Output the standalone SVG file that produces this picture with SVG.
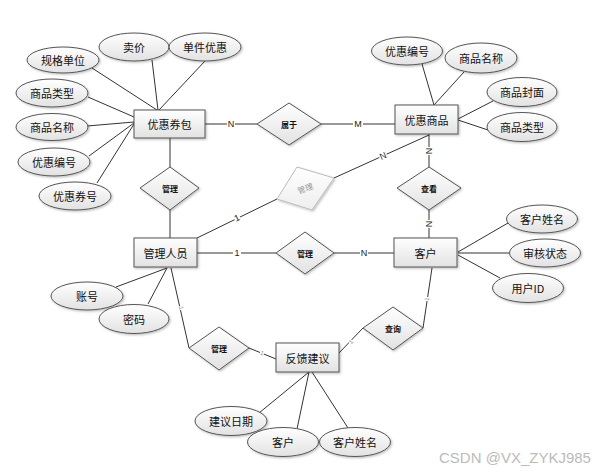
<svg xmlns="http://www.w3.org/2000/svg" width="603" height="475" viewBox="0 0 603 475">
<defs>
<linearGradient id="g" x1="0" y1="0" x2="0" y2="1"><stop offset="0" stop-color="#ffffff"/><stop offset="1" stop-color="#e2e2e2"/></linearGradient>
<linearGradient id="gf" x1="0" y1="0" x2="0" y2="1"><stop offset="0" stop-color="#ffffff"/><stop offset="1" stop-color="#eeeeee"/></linearGradient>
<filter id="sh" x="-20%" y="-20%" width="150%" height="150%"><feDropShadow dx="1.2" dy="1.2" stdDeviation="0.8" flood-color="#000" flood-opacity="0.25"/></filter>
</defs>
<style>
.ent{fill:url(#g);stroke:#555;stroke-width:1;filter:url(#sh)}
.att{fill:url(#g);stroke:#555;stroke-width:1;filter:url(#sh)}
.rel{fill:url(#g);stroke:#555;stroke-width:1;filter:url(#sh)}
.relf{fill:url(#gf);stroke:#bbb;stroke-width:1;filter:url(#sh)}
.t{font-family:"Noto Sans CJK SC","Liberation Sans",sans-serif;font-size:11px;fill:#111;text-anchor:middle;dominant-baseline:central}
.rt{font-family:"Noto Sans CJK SC","Liberation Sans",sans-serif;font-size:8px;font-weight:bold;fill:#111;text-anchor:middle;dominant-baseline:central}
.rtf{font-family:"Noto Sans CJK SC","Liberation Sans",sans-serif;font-size:8px;fill:#999;text-anchor:middle;dominant-baseline:central}
.lb{font-family:"Liberation Sans",sans-serif;font-size:9px;fill:#222;text-anchor:middle;dominant-baseline:central}
.lbg{font-family:"Liberation Sans",sans-serif;font-size:6px;fill:#888;text-anchor:middle;dominant-baseline:central}
.bg{fill:#fff}
.c line{stroke:#333;stroke-width:1}
.wm{font-family:"Liberation Sans",sans-serif;font-size:15px;fill:#bbb}
</style>
<g class="c" id="connectors">
<line x1="92" y1="68" x2="157" y2="110"/>
<line x1="152" y1="60" x2="158" y2="110"/>
<line x1="205" y1="61" x2="159" y2="110"/>
<line x1="88" y1="97" x2="134" y2="117"/>
<line x1="87" y1="126" x2="134" y2="122"/>
<line x1="89" y1="156" x2="134" y2="123"/>
<line x1="97" y1="183" x2="134" y2="124"/>
<line x1="205" y1="124" x2="257" y2="124"/>
<line x1="321" y1="124" x2="395" y2="124"/>
<line x1="422" y1="64" x2="434" y2="105"/>
<line x1="464" y1="72" x2="434" y2="105"/>
<line x1="493" y1="101" x2="458" y2="119"/>
<line x1="488" y1="130" x2="458" y2="120"/>
<line x1="429" y1="134" x2="429" y2="167"/>
<line x1="429" y1="210" x2="429" y2="238"/>
<line x1="429" y1="135" x2="334" y2="178"/>
<line x1="277" y1="199" x2="197" y2="238"/>
<line x1="170" y1="138" x2="170" y2="167"/>
<line x1="170" y1="210" x2="170" y2="238"/>
<line x1="197" y1="253" x2="276" y2="253"/>
<line x1="334" y1="253" x2="394" y2="253"/>
<line x1="508" y1="223" x2="458" y2="252"/>
<line x1="509" y1="253" x2="458" y2="253"/>
<line x1="500" y1="278" x2="458" y2="255"/>
<line x1="116" y1="287" x2="167" y2="268"/>
<line x1="148" y1="304" x2="167" y2="268"/>
<line x1="171" y1="268" x2="189" y2="348"/>
<line x1="249" y1="348" x2="276" y2="359"/>
<line x1="339" y1="353" x2="363" y2="328"/>
<line x1="423" y1="328" x2="432" y2="268"/>
<line x1="259" y1="413" x2="309" y2="372"/>
<line x1="297" y1="429" x2="309" y2="372"/>
<line x1="348" y1="428" x2="312" y2="372"/>
</g>
<g id="line-labels">
<rect class="bg" x="227" y="119" width="8" height="10"/><text class="lb" x="231" y="124">N</text>
<rect class="bg" x="353" y="119" width="10" height="10"/><text class="lb" x="358" y="124">M</text>
<g transform="rotate(90 429 151)"><rect class="bg" x="425" y="146" width="8" height="10"/><text class="lb" x="429" y="151">N</text></g>
<g transform="rotate(90 429 224)"><rect class="bg" x="425" y="219" width="8" height="10"/><text class="lb" x="429" y="224">N</text></g>
<g transform="rotate(-24 383 156)"><rect class="bg" x="379" y="151" width="8" height="10"/><text class="lb" x="383" y="156">N</text></g>
<g transform="rotate(-26 237 218)"><rect class="bg" x="234" y="213" width="6" height="10"/><text class="lb" x="237" y="218">1</text></g>
<rect class="bg" x="233" y="248" width="8" height="10"/><text class="lb" x="237" y="253">1</text>
<rect class="bg" x="360" y="248" width="8" height="10"/><text class="lb" x="364" y="253">N</text>
<g transform="rotate(77 181 308)"><rect class="bg" x="179" y="305" width="4" height="6"/><text class="lbg" x="181" y="308">1</text></g>
<g transform="rotate(22 262 353)"><rect class="bg" x="260" y="350" width="4" height="6"/><text class="lbg" x="262" y="353">1</text></g>
<g transform="rotate(-46 351 342)"><rect class="bg" x="349" y="339" width="4" height="6"/><text class="lbg" x="351" y="342">1</text></g>
<g transform="rotate(-82 427 299)"><rect class="bg" x="425" y="296" width="4" height="6"/><text class="lbg" x="427" y="299">1</text></g>
</g>
<g id="e-coupon-pack"><rect class="ent" x="134" y="110" width="71" height="28"/><text class="t" x="169.5" y="124">优惠券包</text></g>
<g id="e-discount-goods"><rect class="ent" x="395" y="105" width="63" height="29"/><text class="t" x="426.5" y="119.5">优惠商品</text></g>
<g id="e-admin"><rect class="ent" x="134" y="238" width="63" height="29"/><text class="t" x="165.5" y="252.5">管理人员</text></g>
<g id="e-customer"><rect class="ent" x="394" y="238" width="63" height="29"/><text class="t" x="425.5" y="252.5">客户</text></g>
<g id="e-feedback"><rect class="ent" x="276" y="343" width="63" height="29"/><text class="t" x="307.5" y="357.5">反馈建议</text></g>
<g id="r-belong"><polygon class="rel" points="289,103 321,124 289,145 257,124"/><text class="rt" x="289" y="124">属于</text></g>
<g id="r-manage1"><polygon class="rel" points="170,167 199,188 170,210 140,188"/><text class="rt" x="170" y="188">管理</text></g>
<g id="r-manage-faded"><polygon class="relf" points="297,167 334,178 312,210 277,199"/><text class="rtf" x="305" y="188" transform="rotate(-20 305 188)">管理</text></g>
<g id="r-view"><polygon class="rel" points="429,167 461,188 429,210 397,188"/><text class="rt" x="429" y="188">查看</text></g>
<g id="r-manage2"><polygon class="rel" points="305,232 334,253 305,274 276,253"/><text class="rt" x="305" y="253">管理</text></g>
<g id="r-manage3"><polygon class="rel" points="219,327 249,348 219,370 189,348"/><text class="rt" x="219" y="348">管理</text></g>
<g id="r-query"><polygon class="rel" points="393,307 423,328 393,350 363,328"/><text class="rt" x="393" y="328">查询</text></g>
<g id="a-spec"><ellipse class="att" cx="63" cy="60" rx="36" ry="13"/><text class="t" x="63" y="60">规格单位</text></g>
<g id="a-price"><ellipse class="att" cx="134" cy="47" rx="35" ry="14"/><text class="t" x="134" y="47">卖价</text></g>
<g id="a-unit-discount"><ellipse class="att" cx="205" cy="47" rx="36" ry="14"/><text class="t" x="205" y="47">单件优惠</text></g>
<g id="a-goods-type1"><ellipse class="att" cx="52" cy="93" rx="36" ry="14"/><text class="t" x="52" y="93">商品类型</text></g>
<g id="a-goods-name1"><ellipse class="att" cx="52" cy="127" rx="36" ry="13.5"/><text class="t" x="52" y="127">商品名称</text></g>
<g id="a-discount-no1"><ellipse class="att" cx="54" cy="162" rx="36" ry="14"/><text class="t" x="54" y="162">优惠编号</text></g>
<g id="a-coupon-no"><ellipse class="att" cx="75" cy="196" rx="36" ry="14"/><text class="t" x="75" y="196">优惠券号</text></g>
<g id="a-discount-no2"><ellipse class="att" cx="407" cy="51" rx="35.5" ry="14"/><text class="t" x="407" y="51">优惠编号</text></g>
<g id="a-goods-name2"><ellipse class="att" cx="481" cy="58" rx="36" ry="15"/><text class="t" x="481" y="58">商品名称</text></g>
<g id="a-goods-cover"><ellipse class="att" cx="522" cy="92" rx="35" ry="14.5"/><text class="t" x="522" y="92">商品封面</text></g>
<g id="a-goods-type2"><ellipse class="att" cx="522" cy="127" rx="35" ry="14.5"/><text class="t" x="522" y="127">商品类型</text></g>
<g id="a-cust-name1"><ellipse class="att" cx="542" cy="219" rx="35.5" ry="14"/><text class="t" x="542" y="219">客户姓名</text></g>
<g id="a-audit"><ellipse class="att" cx="545" cy="253" rx="35.5" ry="14"/><text class="t" x="545" y="253">审核状态</text></g>
<g id="a-userid"><ellipse class="att" cx="528" cy="288" rx="35.5" ry="14.5"/><text class="t" x="528" y="288">用户ID</text></g>
<g id="a-account"><ellipse class="att" cx="87" cy="296" rx="36" ry="14"/><text class="t" x="87" y="296">账号</text></g>
<g id="a-password"><ellipse class="att" cx="134" cy="319" rx="35" ry="14.5"/><text class="t" x="134" y="319">密码</text></g>
<g id="a-date"><ellipse class="att" cx="231" cy="421" rx="36" ry="14.5"/><text class="t" x="231" y="421">建议日期</text></g>
<g id="a-cust"><ellipse class="att" cx="283" cy="442" rx="35.5" ry="14.5"/><text class="t" x="283" y="442">客户</text></g>
<g id="a-cust-name2"><ellipse class="att" cx="355" cy="442" rx="35.5" ry="14.5"/><text class="t" x="355" y="442">客户姓名</text></g>
<text class="wm" x="439" y="463">CSDN @VX_ZYKJ985</text>
</svg>
